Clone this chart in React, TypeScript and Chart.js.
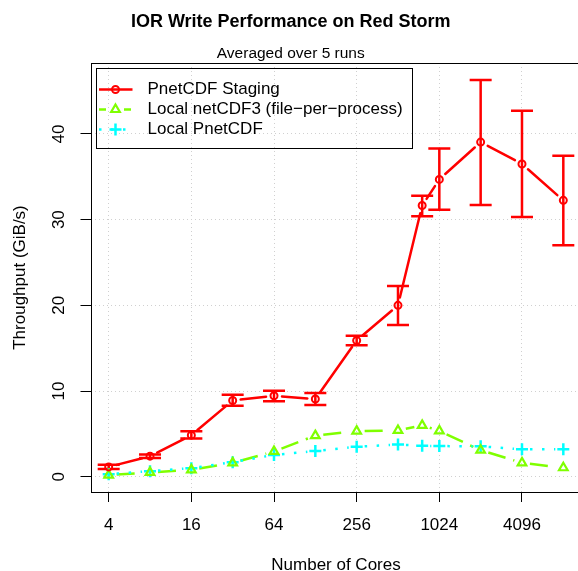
import { useEffect, useRef } from 'react';
import { Chart, registerables } from 'chart.js';

Chart.register(...registerables);

// Number of cores used in each run
const cores = [4, 8, 16, 32, 64, 128, 256, 512, 768, 1024, 2048, 4096, 8192];

// PnetCDF staging throughput (GiB/s), mean with min/max over the runs
const stagingMean = [1.15, 2.4, 4.85, 8.9, 9.45, 9.07, 15.9, 20.0, 31.65, 34.7, 39.05, 36.5, 32.25];
const stagingLow = [0.9, 2.2, 4.45, 8.28, 8.8, 8.37, 15.35, 17.7, 30.4, 31.15, 31.7, 30.3, 27.0];
const stagingHigh = [1.4, 2.6, 5.3, 9.57, 10.03, 9.77, 16.45, 22.25, 32.8, 38.3, 46.3, 42.7, 37.45];

// Local netCDF3, one file per process (GiB/s)
const netcdfLocal = [0.2, 0.5, 0.8, 1.62, 2.95, 4.8, 5.32, 5.4, 6.0, 5.35, 3.1, 1.62, 1.05];

// Local PnetCDF (GiB/s)
const pnetcdfLocal = [0.3, 0.65, 1.0, 1.7, 2.55, 3.0, 3.5, 3.75, 3.62, 3.58, 3.55, 3.2, 3.2];

const xTickValues = [4, 16, 64, 256, 1024, 4096];
const yTickValues = [0, 10, 20, 30, 40];

const seriesNames = [
  'PnetCDF Staging',
  'Local netCDF3 (file\u2212per\u2212process)',
  'Local PnetCDF',
];

const FONT = "'Liberation Sans', Arial, Helvetica, sans-serif";

type SeriesStyle = {
  color: string;
  pointStyle: 'circle' | 'triangle' | 'cross';
  radius: number;
  pointWidth: number;
  lineWidth: number;
  dash: number[];
  legendDash: number[];
};

const seriesStyles: SeriesStyle[] = [
  { color: '#ff0000', pointStyle: 'circle', radius: 3.5, pointWidth: 2, lineWidth: 2.5, dash: [], legendDash: [] },
  { color: '#7fff00', pointStyle: 'triangle', radius: 5, pointWidth: 2.2, lineWidth: 2.5, dash: [18, 8], legendDash: [7, 18] },
  { color: '#00ffff', pointStyle: 'cross', radius: 6, pointWidth: 2.5, lineWidth: 2.5, dash: [2.5, 9.5], legendDash: [2.5, 9.5] },
];

// distance left open around each marker, like R's type = "b"
const POINT_GAP = 8;
const CAP_HALF = 11;

const toXY = (vals: number[]) => cores.map((c, i) => ({ x: c, y: vals[i] }));

// Connects consecutive points with segments that stop short of the markers
const gapLinesPlugin = {
  id: 'gapLines',
  beforeDatasetsDraw(chart: any) {
    const { ctx, chartArea: a } = chart;
    ctx.save();
    ctx.beginPath();
    ctx.rect(a.left, a.top, a.right - a.left, a.bottom - a.top);
    ctx.clip();
    chart.data.datasets.forEach((_ds: any, i: number) => {
      const st = seriesStyles[i];
      const pts = chart.getDatasetMeta(i).data;
      ctx.strokeStyle = st.color;
      ctx.lineWidth = st.lineWidth;
      ctx.lineCap = st.dash.length ? 'butt' : 'round';
      for (let k = 0; k < pts.length - 1; k++) {
        const p = pts[k];
        const q = pts[k + 1];
        const dx = q.x - p.x;
        const dy = q.y - p.y;
        const d = Math.hypot(dx, dy);
        if (d <= 2 * POINT_GAP) continue;
        const ux = dx / d;
        const uy = dy / d;
        ctx.setLineDash(st.dash);
        ctx.lineDashOffset = 0;
        ctx.beginPath();
        ctx.moveTo(p.x + ux * POINT_GAP, p.y + uy * POINT_GAP);
        ctx.lineTo(q.x - ux * POINT_GAP, q.y - uy * POINT_GAP);
        ctx.stroke();
      }
    });
    ctx.restore();
  },
};

// Min/max whiskers for the staging series
const errorBarsPlugin = {
  id: 'errorBars',
  beforeDatasetsDraw(chart: any) {
    const { ctx } = chart;
    const xs = chart.scales.x;
    const ys = chart.scales.y;
    ctx.save();
    ctx.strokeStyle = seriesStyles[0].color;
    ctx.lineWidth = 2.5;
    ctx.lineCap = 'butt';
    ctx.setLineDash([]);
    cores.forEach((c, i) => {
      const x = xs.getPixelForValue(c);
      const yl = ys.getPixelForValue(stagingLow[i]);
      const yh = ys.getPixelForValue(stagingHigh[i]);
      ctx.beginPath();
      ctx.moveTo(x, yl);
      ctx.lineTo(x, yh);
      ctx.moveTo(x - CAP_HALF, yl);
      ctx.lineTo(x + CAP_HALF, yl);
      ctx.moveTo(x - CAP_HALF, yh);
      ctx.lineTo(x + CAP_HALF, yh);
      ctx.stroke();
    });
    ctx.restore();
  },
};

function drawMarker(ctx: CanvasRenderingContext2D, st: SeriesStyle, x: number, y: number) {
  ctx.save();
  ctx.strokeStyle = st.color;
  ctx.lineWidth = st.pointWidth;
  ctx.setLineDash([]);
  ctx.beginPath();
  if (st.pointStyle === 'circle') {
    ctx.arc(x, y, st.radius, 0, Math.PI * 2);
  } else if (st.pointStyle === 'triangle') {
    const r = st.radius;
    for (let k = 0; k < 3; k++) {
      const ang = (k * 2 * Math.PI) / 3;
      const px = x + Math.sin(ang) * r;
      const py = y - Math.cos(ang) * r;
      if (k === 0) ctx.moveTo(px, py);
      else ctx.lineTo(px, py);
    }
    ctx.closePath();
  } else {
    ctx.moveTo(x - st.radius, y);
    ctx.lineTo(x + st.radius, y);
    ctx.moveTo(x, y - st.radius);
    ctx.lineTo(x, y + st.radius);
  }
  ctx.stroke();
  ctx.restore();
}

// Plot frame and the boxed legend in the top-left corner
const frameLegendPlugin = {
  id: 'frameLegend',
  afterDraw(chart: any) {
    const { ctx, chartArea: a } = chart;
    ctx.save();
    ctx.strokeStyle = '#000';
    ctx.lineWidth = 1;
    ctx.setLineDash([]);
    const l = Math.round(a.left) + 0.5;
    const t = Math.round(a.top) + 0.5;
    const r = Math.round(a.right) + 0.5;
    const b = Math.round(a.bottom) + 0.5;
    ctx.strokeRect(l, t, r - l, b - t);

    ctx.font = `17px ${FONT}`;
    const left = Math.round(a.left + 5.5) + 0.5;
    const top = Math.round(a.top + 4.5) + 0.5;
    const textX = left + 51;
    const maxW = Math.max(...seriesNames.map((n) => ctx.measureText(n).width));
    const right = Math.round(textX + maxW + 9) + 0.5;
    const bottom = top + 80;
    ctx.strokeRect(left, top, right - left, bottom - top);

    seriesNames.forEach((name, i) => {
      const st = seriesStyles[i];
      const y = top + 21 + i * 20;
      ctx.save();
      ctx.strokeStyle = st.color;
      ctx.lineWidth = st.lineWidth;
      ctx.lineCap = 'butt';
      ctx.setLineDash(st.legendDash);
      ctx.beginPath();
      ctx.moveTo(left + 2.5, y);
      ctx.lineTo(left + 36, y);
      ctx.stroke();
      ctx.restore();
      drawMarker(ctx, st, left + 19, y);
      ctx.fillStyle = '#000';
      ctx.textBaseline = 'middle';
      ctx.textAlign = 'left';
      ctx.fillText(name, textX, y);
    });
    ctx.restore();
  },
};

const tickFont = { family: FONT, size: 17, lineHeight: 1.2 };

export default function App() {
  const canvasRef = useRef<HTMLCanvasElement | null>(null);

  useEffect(() => {
    if (!canvasRef.current) return;
    const series = [stagingMean, netcdfLocal, pnetcdfLocal];
    const chart = new Chart(canvasRef.current, {
      type: 'line',
      data: {
        datasets: series.map((vals, i) => ({
          label: seriesNames[i],
          data: toXY(vals),
          showLine: false,
          borderColor: seriesStyles[i].color,
          backgroundColor: 'rgba(0,0,0,0)',
          pointStyle: seriesStyles[i].pointStyle,
          pointRadius: seriesStyles[i].radius,
          pointBorderWidth: seriesStyles[i].pointWidth,
          pointBorderColor: seriesStyles[i].color,
          pointBackgroundColor: 'rgba(0,0,0,0)',
          pointHoverRadius: seriesStyles[i].radius,
        })),
      },
      options: {
        responsive: false,
        animation: false,
        devicePixelRatio: 1,
        events: [],
        layout: { padding: { left: 0, right: 24.5, top: 0, bottom: 0 } },
        plugins: {
          legend: { display: false },
          tooltip: { enabled: false },
          title: {
            display: true,
            text: 'IOR Write Performance on Red Storm',
            color: '#000',
            font: { family: FONT, size: 18, weight: 'bold', lineHeight: 1.2 },
            padding: { top: 11.2, bottom: 0 },
          },
          subtitle: {
            display: true,
            text: 'Averaged over 5 runs',
            color: '#000',
            font: { family: FONT, size: 15.5, lineHeight: 1.2 },
            padding: { top: 11.2, bottom: 0.4 },
          },
        },
        scales: {
          x: {
            type: 'logarithmic',
            min: Math.pow(2, 1.56),
            max: Math.pow(2, 13.44),
            bounds: 'data',
            afterBuildTicks: (s: any) => {
              s.ticks = xTickValues.map((v) => ({ value: v }));
            },
            afterFit: (s: any) => {
              s.height = 88;
            },
            grid: {
              color: '#d0d0d0',
              lineWidth: 1,
              drawTicks: true,
              tickLength: 10,
              tickColor: '#000',
              tickWidth: 1,
              tickBorderDash: [],
            },
            border: { display: false, dash: [1, 3] },
            ticks: {
              color: '#000',
              font: tickFont,
              padding: 12.8,
              autoSkip: false,
              minRotation: 0,
              maxRotation: 0,
              callback: (v: any) => String(v),
            },
            title: {
              display: true,
              text: 'Number of Cores',
              color: '#000',
              font: tickFont,
              padding: { top: 0, bottom: 4.8 },
            },
          },
          y: {
            type: 'linear',
            min: -1.78,
            max: 48.28,
            bounds: 'data',
            afterBuildTicks: (s: any) => {
              s.ticks = yTickValues.map((v) => ({ value: v }));
            },
            afterFit: (s: any) => {
              s.width = 90.5;
            },
            grid: {
              color: '#d0d0d0',
              lineWidth: 1,
              drawTicks: true,
              tickLength: 10,
              tickColor: '#000',
              tickWidth: 1,
              tickBorderDash: [],
            },
            border: { display: false, dash: [1, 3] },
            ticks: {
              color: '#000',
              font: tickFont,
              padding: 12,
              minRotation: 90,
              maxRotation: 90,
              crossAlign: 'center',
              callback: (v: any) => String(v),
            },
            title: {
              display: true,
              text: 'Throughput (GiB/s)',
              color: '#000',
              font: tickFont,
              padding: { top: 9.8, bottom: 0 },
            },
          },
        },
      } as any,
      plugins: [gapLinesPlugin, errorBarsPlugin, frameLegendPlugin],
    });
    return () => chart.destroy();
  }, []);

  return (
    <div
      style={{
        position: 'fixed',
        left: 0,
        top: 0,
        width: 578,
        height: 571,
        overflow: 'hidden',
        background: '#fff',
      }}
    >
      <canvas ref={canvasRef} width={606} height={580} style={{ display: 'block', width: 606, height: 580 }} />
    </div>
  );
}
